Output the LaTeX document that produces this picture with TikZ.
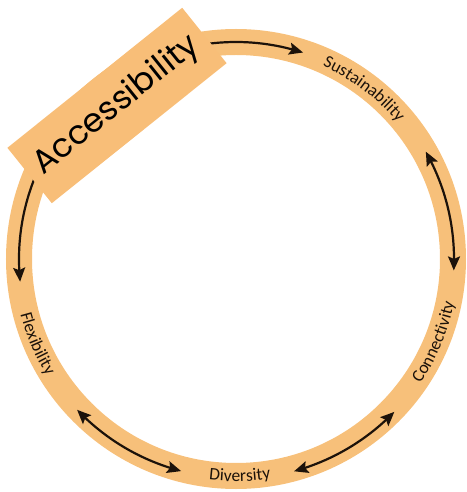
\documentclass[tikz,border=0pt]{standalone}
\usepackage{fontspec}
\setmainfont{Carlito}
\newfontfamily\accfont{Poppins}
\usetikzlibrary{decorations.text, arrows.meta, bending}
\definecolor{ringc}{RGB}{247,192,122}
\definecolor{boxc}{RGB}{248,190,120}
\definecolor{ink}{RGB}{28,18,10}
\newcommand\ringfont{\color{ink}\fontsize{17.5pt}{18pt}\selectfont}
\begin{document}
\begin{tikzpicture}[x=1pt,y=1pt,
  tipx/.tip={Stealth[length=14pt,width=12pt,inset=2.5pt]},
  arr/.style={ink, line width=2.2pt, -{tipx[bend]}},
  darr/.style={ink, line width=2.2pt, {tipx[bend]}-{tipx[bend]}},
  ringlabel/.style={decorate, decoration={text along path, text align=center}},
  accbox/.style={fill=boxc, minimum width=224pt, minimum height=71pt, inner sep=0pt,
    font=\accfont\fontsize{33pt}{33pt}\selectfont, text=black}]
\useasboundingbox (-236,-233) rectangle (230,259);
\coordinate (c) at (0,0);
% ring
\draw[ringc, line width=26pt] (c) circle[radius=217pt];
% labels along the ring
\path[ringlabel, decoration={text={|\ringfont|Sustainability}}]
  (c) ++(93:211.5pt) arc[start angle=93, end angle=13, radius=211.5pt];
\path[ringlabel, decoration={text={|\ringfont|Connectivity}}]
  (c) ++(-62.7:222.5pt) arc[start angle=-62.7, end angle=17.3, radius=222.5pt];
\path[ringlabel, decoration={text={|\ringfont|Diversity}}]
  (c) ++(-129:222.5pt) arc[start angle=-129, end angle=-49, radius=222.5pt];
\path[ringlabel, decoration={text={|\ringfont|Flexibility}}]
  (c) ++(163:222.5pt) arc[start angle=163, end angle=243, radius=222.5pt];
% arrows
\draw[arr] (c) ++(99:217pt) arc[start angle=99, end angle=72, radius=217pt];
\draw[darr] (c) ++(29.5:218pt) arc[start angle=29.5, end angle=-3, radius=218pt];
\draw[darr] (c) ++(-44:220pt) arc[start angle=-44, end angle=-74.7, radius=220pt];
\draw[darr] (c) ++(223.5:219pt) arc[start angle=223.5, end angle=255.5, radius=219pt];
\draw[arr] (c) ++(155:217pt) arc[start angle=155, end angle=186, radius=217pt];
% Accessibility box
\node[accbox, rotate=38.7] (acc) at (-119,153.5) {Accessibility};
\end{tikzpicture}
\end{document}
